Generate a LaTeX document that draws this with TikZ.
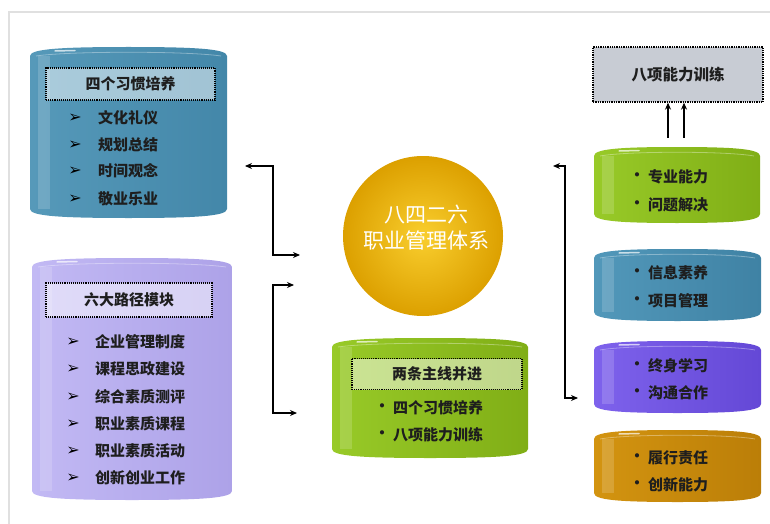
\documentclass[tikz,border=0pt]{standalone}
\usepackage{fontspec}
\usetikzlibrary{arrows.meta,calc}
\newfontfamily\cjk{Noto Sans CJK SC}
\newfontfamily\dvs{DejaVu Sans}
% colours
\definecolor{bluL}{HTML}{5699B9}\definecolor{bluM}{HTML}{72B2D0}\definecolor{bluR}{HTML}{4387A9}
\definecolor{lavL}{HTML}{C2B9F4}\definecolor{lavM}{HTML}{D2CBF9}\definecolor{lavR}{HTML}{ADA2E8}
\definecolor{grnL}{HTML}{98CA28}\definecolor{grnM}{HTML}{AEDC3C}\definecolor{grnR}{HTML}{80AE16}
\definecolor{rblL}{HTML}{5298BA}\definecolor{rblM}{HTML}{68AACB}\definecolor{rblR}{HTML}{3F82A4}
\definecolor{purL}{HTML}{7E62EC}\definecolor{purM}{HTML}{9078F6}\definecolor{purR}{HTML}{6448D6}
\definecolor{orgL}{HTML}{D39410}\definecolor{orgM}{HTML}{E4A618}\definecolor{orgR}{HTML}{BB7E08}
\definecolor{goldIn}{HTML}{F9CE2E}\definecolor{goldOut}{HTML}{DCA000}
\definecolor{boxgray}{HTML}{C8CCD4}
\definecolor{txt}{HTML}{1E1E1E}
\newcommand\mycyl[6]{% name, x1, y1, x2, y2, colour prefix
  \pgfmathsetmacro\cxm{(#2+#4)/2}\pgfmathsetmacro\cym{(#3+#5)/2}%
  \pgfmathsetmacro\cw{#4-#2}\pgfmathsetmacro\ch{#5-#3}%
  \shade[left color=#6L, middle color=#6M, right color=#6R]
    (#2,#3+9) .. controls (#2,#3+2) and (#2+0.15*\cw,#3) .. (\cxm,#3)
    .. controls (#4-0.15*\cw,#3) and (#4,#3+2) .. (#4,#3+9)
    -- (#4,#5-9) .. controls (#4,#5-2) and (#4-0.15*\cw,#5) .. (\cxm,#5)
    .. controls (#2+0.15*\cw,#5) and (#2,#5-2) .. (#2,#5-9) -- cycle;
  \fill[white,opacity=.16] (#2+8,#3+9) rectangle (#2+20,#5-9);
  \draw[white,opacity=.35,line width=.8pt] (#2+6,#3+9) .. controls (#2+0.2*\cw,#3+4) and (#4-0.2*\cw,#3+4) .. (#4-6,#3+9);
  \draw[white,opacity=.7,line width=1.5pt,line cap=round] (#2+25,#3+4) -- (#2+45,#3+3.5);
  \node[inner sep=0,minimum width=\cw pt,minimum height=\ch pt] (#1) at (\cxm,\cym) {};
}
\tikzset{
  item/.style={anchor=west,inner sep=0,text=txt,font=\cjk\bfseries\fontsize{15}{18}\selectfont},
  arr/.style={inner sep=0,text=black,font=\dvs\fontsize{16}{18}\selectfont},
  bul/.style={inner sep=0,text=txt,font=\cjk\bfseries\fontsize{15}{18}\selectfont},
  ttl/.style={draw=black,densely dotted,line width=1.1pt,fill=white,fill opacity=.5,text opacity=1,
              text=txt,inner sep=0,font=\cjk\bfseries\fontsize{15}{18}\selectfont},
  conn/.style={line width=1.1pt,{Stealth[length=7pt,width=6pt]}-{Stealth[length=7pt,width=6pt]}},
  up/.style={line width=1.3pt,-{Stealth[length=7pt,width=6pt]}},
}
\begin{document}
\begin{tikzpicture}[x=1pt,y={(0pt,-1pt)}]
\useasboundingbox (0,0) rectangle (770,524);
% page frame
\draw[black!12,line width=2pt] (9,524) -- (9,12) -- (770,12);

% ---- top-left blue cylinder
\mycyl{hab}{30}{47}{227}{218}{blu}
\node[ttl,minimum width=169pt,minimum height=32pt] (habt) at (130.5,84) {四个习惯培养};
\foreach \t/\y in {文化礼仪/118,规划总结/145,时间观念/171,敬业乐业/199}{
  \node[arr] at (75,\y) {\char"27A2};
  \node[item] at (98,\y) {\t};
}

% ---- lavender cylinder
\mycyl{six}{32}{258}{232}{500}{lav}
\node[ttl,minimum width=166pt,minimum height=34pt] (sixt) at (129,300) {六大路径模块};
\foreach \t/\y in {企业管理制度/342,课程思政建设/369,综合素质测评/397,职业素质课程/424,职业素质活动/451,创新创业工作/478}{
  \node[arr] at (73,\y) {\char"27A2};
  \node[item] at (95,\y) {\t};
}

% ---- gold circle
\shade[inner color=goldIn,outer color=goldOut] (423,236) circle (80);
\node[circle,minimum size=160pt,inner sep=0] (core) at (423,236) {};
\node[inner sep=0,text=white,font=\cjk\fontsize{21}{25}\selectfont,align=center] at (426,228) {八四二六\\[1pt]职业管理体系};

% ---- centre green cylinder
\mycyl{two}{332}{338}{528}{458}{grn}
\node[ttl,minimum width=170pt,minimum height=31pt] (twot) at (437,374) {两条主线并进};
\foreach \t/\y in {四个习惯培养/408,八项能力训练/435}{
  \node[bul] at (382,\y) {•};
  \node[item] at (393,\y) {\t};
}

% ---- right column
\node[draw=black,densely dotted,line width=1.3pt,fill=boxgray,minimum width=170pt,minimum height=55pt,inner sep=0,
      text=txt,font=\cjk\bfseries\fontsize{15.5}{18}\selectfont] (eight) at (678,74.5) {八项能力训练};
\mycyl{r1}{594}{147}{760}{223}{grn}
\mycyl{r2}{594}{249}{761}{321}{rbl}
\mycyl{r3}{594}{341}{761}{413}{pur}
\mycyl{r4}{594}{430}{761}{502}{org}
\foreach \t/\y in {专业能力/177,问题解决/205,信息素养/273,项目管理/301,终身学习/366,沟通合作/393,履行责任/458,创新能力/485}{
  \node[bul] at (637,\y) {•};
  \node[item] at (648,\y) {\t};
}

% ---- connectors
\coordinate (L1) at (245,166);
\coordinate (R1) at (300,255);
\coordinate (T2) at (294,285);
\coordinate (B2) at (297,413);
\coordinate (L3) at (553,166);
\coordinate (R3) at (578,398);
\draw[conn] (L1) -- ++(28,0) |- (R1);
\draw[conn] (T2) -- ++(-21,0) |- (B2);
\draw[conn] (L3) -- ++(12,0) |- (R3);
\coordinate (u1s) at ($(r1.north)+(-9,-9)$);
\coordinate (u2s) at ($(r1.north)+(7,-9)$);
\draw[up] (u1s) -- (u1s |- eight.south);
\draw[up] (u2s) -- (u2s |- eight.south);
\end{tikzpicture}
\end{document}
